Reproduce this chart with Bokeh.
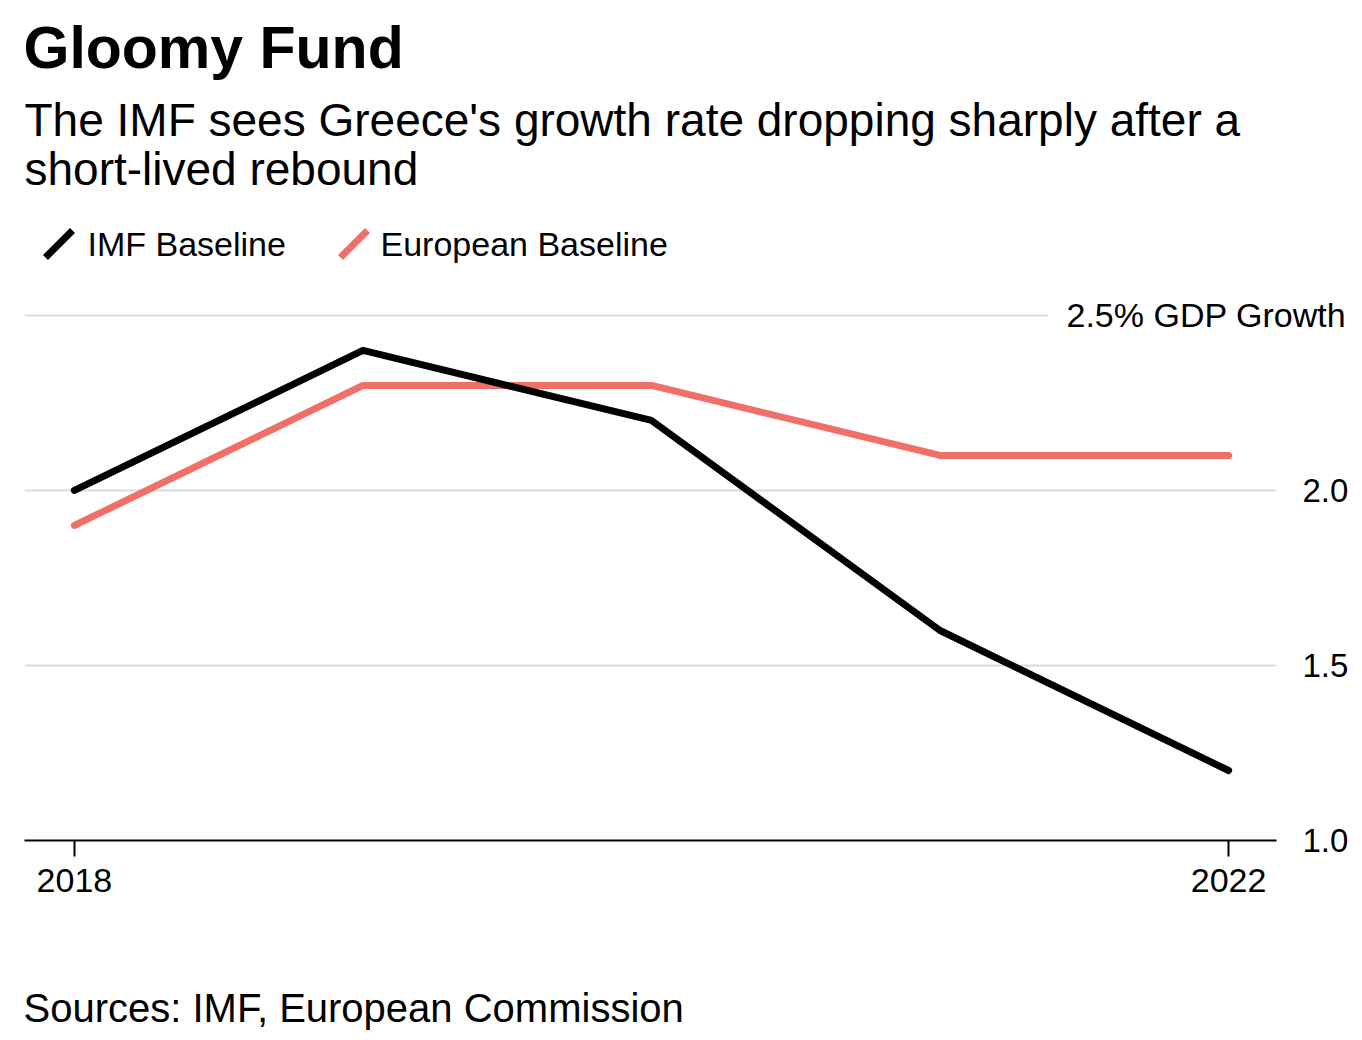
from bokeh.plotting import figure
from bokeh.models import Range1d, FixedTicker, LinearAxis
from bokeh.layouts import column
from bokeh.core.properties import value
from bokeh.embed import file_html
from bokeh.resources import INLINE

# ---- data ----
years = [2018, 2019, 2020, 2021, 2022]
imf_baseline = [2.0, 2.4, 2.2, 1.6, 1.2]
european_baseline = [1.9, 2.3, 2.3, 2.1, 2.1]
x_ticks = [2018, 2022]
y_ticks = [1.0, 1.5, 2.0]
y_labels = {1.0: "1.0", 1.5: "1.5", 2.0: "2.0"}
ref_level = 2.5
ref_label = "2.5% GDP Growth"
series_names = ["IMF Baseline", "European Baseline"]

title = "Gloomy Fund"
subtitle1 = "The IMF sees Greece's growth rate dropping sharply after a"
subtitle2 = "short-lived rebound"
source = "Sources: IMF, European Commission"

BLACK = "#000000"
RED = "#f07068"
GRID = "#dcdcdc"
FONT = "Liberation Sans"
W = 1356
BL, BR = 24, 80          # left / right borders shared by all rows


def blank(height):
    f = figure(width=W, height=height, output_backend="svg", toolbar_location=None,
               x_range=Range1d(BL, W - BR), y_range=Range1d(height, 0),
               x_axis_location=None, y_axis_location=None,
               min_border_left=BL, min_border_right=BR, min_border_top=0, min_border_bottom=0)
    f.grid.grid_line_color = None
    f.outline_line_color = None
    f.background_fill_color = "white"
    f.border_fill_color = "white"
    return f


# ---- header ----
HH = 280
hdr = blank(HH)
hdr.text(x=[23], y=[47], text=[title], text_font=value(FONT), text_font_style="bold",
         text_font_size="59px", text_baseline="middle", text_color=BLACK)
hdr.text(x=[24, 24], y=[119, 168], text=[subtitle1, subtitle2], text_font=value(FONT),
         text_font_size="46px", text_baseline="middle", text_color=BLACK)
# legend keys (slanted strokes) and names
hdr.segment(x0=[45, 340], y0=[257, 257], x1=[72, 367], y1=[230, 230],
            line_color=[BLACK, RED], line_width=7)
hdr.text(x=[87, 380], y=[243, 243], text=series_names, text_font=value(FONT),
         text_font_size="34px", text_baseline="middle", text_color=BLACK)

# ---- main chart ----
p = figure(width=W, height=680, output_backend="svg", toolbar_location=None,
           x_range=Range1d(2017.827, 2022.166), y_range=Range1d(1.0, 2.577),
           y_axis_location="right",
           min_border_left=BL, min_border_right=BR, min_border_top=8, min_border_bottom=120)
p.outline_line_color = None
p.background_fill_color = "white"
p.border_fill_color = "white"

xa = p.xaxis[0]
xa.ticker = FixedTicker(ticks=x_ticks)
xa.axis_line_color = BLACK
xa.axis_line_width = 2
xa.major_tick_line_color = BLACK
xa.major_tick_line_width = 2
xa.major_tick_in = 0
xa.major_tick_out = 16
xa.minor_tick_line_color = None
xa.major_label_text_font = FONT
xa.major_label_text_font_size = "34px"
xa.major_label_text_color = BLACK
xa.major_label_standoff = 12

ya = p.yaxis[0]
ya.ticker = FixedTicker(ticks=y_ticks)
ya.major_label_overrides = y_labels
ya.axis_line_color = None
ya.major_tick_line_color = None
ya.minor_tick_line_color = None
ya.major_tick_in = 0
ya.major_tick_out = 0
ya.major_label_standoff = 26
ya.major_label_text_font = FONT
ya.major_label_text_font_size = "33px"
ya.major_label_text_color = BLACK

# label of the 2.5% reference line, carried by a second right axis
ra = LinearAxis(ticker=FixedTicker(ticks=[ref_level]), major_label_overrides={ref_level: ref_label},
                axis_line_color=None, major_tick_line_color=None, minor_tick_line_color=None,
                major_tick_in=0, major_tick_out=0, major_label_standoff=-285,
                major_label_text_font=FONT, major_label_text_font_size="34px",
                major_label_text_color=BLACK)
p.add_layout(ra, "right")

p.xgrid.grid_line_color = None
p.ygrid.ticker = FixedTicker(ticks=[1.5, 2.0])
p.ygrid.grid_line_color = GRID
p.ygrid.grid_line_width = 2

# reference line at 2.5 (stops short of its label)
p.segment(x0=[p.x_range.start], x1=[2021.376], y0=[ref_level], y1=[ref_level],
          line_color=GRID, line_width=2)

p.line(years, european_baseline, line_color=RED, line_width=7, line_cap="round", line_join="round")
p.line(years, imf_baseline, line_color=BLACK, line_width=7, line_cap="round", line_join="round")

# ---- footer ----
FH = 76
ftr = blank(FH)
ftr.text(x=[23], y=[47], text=[source], text_font=value(FONT), text_font_size="40px",
         text_baseline="middle", text_color=BLACK)

layout = column(hdr, p, ftr, spacing=0)
open("out.html", "w").write(file_html(layout, INLINE))
